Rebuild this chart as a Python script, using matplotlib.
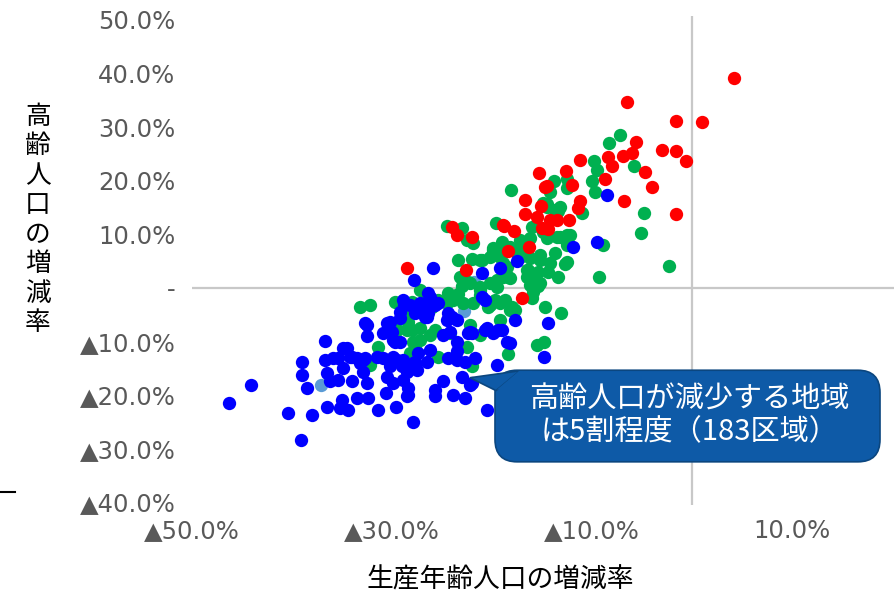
import matplotlib
matplotlib.use("Agg")
import matplotlib.pyplot as plt
from matplotlib.patches import FancyBboxPatch, Polygon
from matplotlib.lines import Line2D

plt.rcParams['font.family'] = ['Noto Sans CJK JP', 'DejaVu Sans']

# ---- data (percent) ----
red_x = [4.2, -6.5, -1.6, 1.0, -5.6, -3.0, -1.6, -0.6, -6.0, -6.9, -8.4, -8.0, -11.2, -4.7, -4.0, -8.7,
         -6.8, -1.6, -15.3, -12.6, -14.5, -12.0, -11.2, -11.4, -16.7, -16.7, -15.1, -15.5, -14.2, -13.5,
         -12.3, -15.0, -14.7, -18.8, -17.8, -24.0, -23.5, -22.0, -18.4, -22.6, -16.3, -28.5, -18.9, -17.0, -14.4]
red_y = [39.2, 34.7, 31.2, 31.0, 27.2, 25.7, 25.6, 23.7, 25.2, 24.6, 24.4, 22.8, 23.9, 21.6, 18.8, 20.3,
         16.2, 13.8, 21.5, 21.8, 19.0, 19.2, 16.2, 14.9, 16.4, 13.8, 15.3, 13.2, 12.7, 12.7,
         12.7, 11.2, 18.8, 11.6, 10.6, 11.4, 9.9, 9.5, 6.9, 3.4, 7.6, 3.7, 11.8, -1.9, 11.0]

green_x = [-7.2, -8.3, -9.8, -9.5, -10.0, -9.7, -5.8, -4.8, -5.1, -13.8, -12.5, -12.5, -14.2, -14.5, -13.4,
           -11.0, -16.0, -12.5, -2.3, -9.3, -8.9, -13.4, -12.7, -13.7, -14.7, -13.1, -15.9, -15.4, -16.0,
           -18.7, -17.7, -14.5, -13.2, -12.2, -17.2, -17.4, -16.2, -15.2, -14.2, -16.4, -15.4, -14.4, -19.2,
           -18.5, -13.2, -14.9, -24.5, -23.0, -22.5, -21.9, -19.6, -23.4, -22.0, -21.2, -19.9, -19.4, -20.2,
           -18.9, -18.2, -18.9, -20.2, -19.5, -21.2, -22.4, -23.0, -23.4, -24.4, -27.2, -26.7, -27.9, -25.4,
           -26.0, -23.9, -22.9, -21.9, -20.4, -19.7, -19.2, -18.2, -17.2, -15.2, -12.5, -15.2, -15.9, -16.5,
           -14.9, -14.5, -13.7, -16.2, -16.9, -19.0, -33.2, -32.2, -29.7, -28.0, -27.9, -28.4, -28.0, -29.5,
           -27.2, -26.2, -31.4, -25.4, -27.7, -28.2, -32.2, -27.2, -27.9, -24.5, -22.2, -21.2, -22.5, -22.0,
           -18.4, -19.2, -28.5, -28.9, -15.5, -14.8, -16.2, -18.0, -20.2, -21.2, -24.2, -25.7, -18.1, -23.2,
           -21.0, -19.9, -18.2, -17.5, -16.5, -22.2, -21.2, -19.5, -18.4, -16.5, -13.5, -12.5]
green_y = [28.5, 27.1, 23.7, 22.0, 20.0, 17.9, 22.8, 14.0, 10.3, 20.0, 20.3, 18.7, 17.9, 15.7, 14.4,
           14.0, 11.4, 9.9, 4.1, 2.1, 8.0, 2.1, 4.5, 6.5, -3.5, -4.7, 1.1, 0.4, -1.9,
           -2.2, -4.1, 9.3, 9.5, 9.9, 9.0, 7.1, 5.6, 5.2, 4.7, 3.4, 3.0, 3.0, 5.8,
           3.9, 15.1, 15.9, 11.6, 11.2, 9.0, 8.4, 12.1, 5.2, 5.4, 5.2, 7.5, 6.7, 5.8,
           4.7, 1.9, 2.1, 0.9, 0.2, 0.2, 1.1, 0.4, -1.1, -0.9, -0.4, -2.2, -3.7, -2.2,
           -3.5, -2.2, -2.8, -2.8, -3.5, -2.2, -2.8, -4.1, 5.8, 6.2, 4.9, 0.9, -0.7, 2.1,
           10.4, 15.1, 14.6, 9.3, 8.0, 8.6, -3.5, -3.2, -2.6, -2.6, -4.5, -6.3, -7.8, -7.8,
           -9.7, -8.8, -11.0, -12.9, -11.0, -12.1, -14.4, -7.5, -10.1, -2.8, -6.9, -8.8, -11.0, -14.7,
           -12.3, -6.0, -7.8, -5.0, -10.6, -10.1, 0.6, -3.5, -3.2, -1.3, -8.4, -7.8, 18.3, 2.1,
           5.2, 7.1, 7.6, 6.5, 7.1, 0.9, -0.4, 1.5, 2.1, 3.4, 9.5, 8.0]

blue_x = [-46.3, -44.1, -40.4, -39.1, -38.0, -39.0, -39.0, -38.5, -36.7, -36.7, -36.5, -36.2, -36.5, -35.9,
          -35.4, -34.5, -34.0, -34.9, -35.4, -34.0, -33.2, -32.9, -32.5, -33.5, -32.4, -35.0, -35.2, -34.4,
          -31.4, -29.6, -27.9, -32.5, -32.5, -30.9, -30.5, -29.9, -29.2, -31.5, -30.9, -30.2, -29.5, -29.0,
          -28.5, -30.5, -29.9, -28.9, -28.4, -28.4, -30.6, -28.9, -29.2, -27.7, -27.9, -27.5, -30.2, -29.2,
          -28.8, -29.7, -27.8, -27.0, -26.2, -25.7, -26.5, -24.5, -24.2, -24.9, -23.5, -22.4, -20.5, -19.4,
          -18.5, -21.7, -19.5, -24.4, -23.5, -26.5, -27.7, -23.0, -24.9, -25.7, -25.7, -23.9, -22.7, -20.5,
          -22.2, -32.7, -33.5, -26.4, -24.0, -23.5, -22.7, -22.2, -17.7, -18.2, -14.4, -14.8, -20.7, -19.9,
          -19.0, -22.0, -25.4, -24.4, -23.5, -25.9, -26.4, -28.2, -25.9, -26.7, -32.7, -30.0, -26.2, -27.4,
          -34.9, -34.2, -32.9, -29.9, -28.9, -17.5, -11.9, -21.0, -19.2, -21.0, -20.7, -27.2, -9.5, -8.5,
          -22.0, -27.7, -28.5]
blue_y = [-21.6, -18.1, -23.3, -28.4, -23.7, -13.8, -16.2, -18.8, -9.9, -13.4, -15.9, -17.5, -22.2, -13.1,
          -13.1, -11.2, -12.9, -14.9, -17.2, -17.5, -14.0, -15.7, -17.7, -20.5, -20.5, -20.9, -22.4, -22.8,
          -22.9, -22.2, -25.0, -6.9, -9.1, -8.4, -6.5, -9.7, -10.1, -12.9, -13.1, -14.7, -13.4, -14.7,
          -15.7, -16.6, -17.7, -17.2, -18.8, -20.0, -19.6, -2.2, -4.5, -4.7, -14.0, -15.3, -6.3, -5.6,
          -3.2, -10.1, 1.5, -3.5, -1.7, -3.2, -5.4, -6.0, -8.2, -8.8, -10.1, -8.4, -7.5, -7.8,
          -10.1, -13.1, -14.4, -13.1, -13.4, -13.8, -13.8, -16.6, -17.5, -19.0, -20.3, -20.0, -20.5, -22.8,
          -18.1, -13.1, -13.1, -4.7, -5.4, -11.9, -13.8, -8.2, -6.0, -10.3, -6.5, -12.9, -7.8, -8.4,
          -7.8, -8.4, -2.8, -4.7, -6.0, 3.7, -0.9, -3.2, -3.2, -5.4, -6.5, -8.2, -11.6, -12.1,
          -11.2, -12.9, -13.4, -12.9, -13.4, 5.0, 7.6, 2.8, 3.7, -1.7, -2.2, -2.8, 8.6, 17.4,
          -17.7, -14.4, -20.3]

lblue_x = [-37.1, -22.8, -29.4, -21.8]
lblue_y = [-18.1, -4.3, -6.3, 1.1]

y_ticks = [-40, -30, -20, -10, 0, 10, 20, 30, 40, 50]
y_labels = ['▲40.0%', '▲30.0%', '▲20.0%', '▲10.0%', '-', '10.0%', '20.0%', '30.0%', '40.0%', '50.0%']
x_ticks = [-50, -30, -10, 10]
x_labels = ['▲50.0%', '▲30.0%', '▲10.0%', '10.0%']

W, H = 895, 593
fig = plt.figure(figsize=(W / 100, H / 100), dpi=100)
x0, x1 = -50.0, 20.3
y0, y1 = -40.6, 50.8
px_l, px_r = 192, 895
py_t, py_b = 15.7, 505.2
ax = fig.add_axes([px_l / W, (H - py_b) / H, (px_r - px_l) / W, (py_b - py_t) / H])
ax.set_xlim(x0, x1)
ax.set_ylim(y0, y1)
for s in ax.spines.values():
    s.set_visible(False)

grey = '#c8c8c8'
ax.axhline(0, color=grey, lw=1.6, zorder=1)
ax.axvline(0, color=grey, lw=1.6, zorder=1)

ms = 92
ax.scatter(lblue_x, lblue_y, s=ms, color='#5b9bd5', lw=0, zorder=2)
ax.scatter(green_x, green_y, s=ms, color='#00b050', lw=0, zorder=3)
ax.scatter(red_x, red_y, s=ms, color='#ff0000', lw=0, zorder=4)
ax.scatter(blue_x, blue_y, s=ms, color='#0000ff', lw=0, zorder=5)

tick_col = '#595959'
ax.set_yticks(y_ticks)
ax.set_yticklabels(y_labels)
ax.set_xticks(x_ticks)
ax.set_xticklabels(x_labels)
ax.tick_params(axis='both', length=0, labelsize=17.5, labelcolor=tick_col)
ax.tick_params(axis='y', pad=12)
ax.tick_params(axis='x', pad=10)
for lab in ax.get_xticklabels() + ax.get_yticklabels():
    lab.set_fontfamily(['DejaVu Sans'])

# axis titles
fig.text(38 / W, 1 - 220 / H, '\n'.join('高齢人口の増減率'), ha='center', va='center',
         fontsize=18.5, linespacing=1.17, color='black')
fig.text(500 / W, 1 - 580 / H, '生産年齢人口の増減率', ha='center', va='center',
         fontsize=19.3, color='black')

# callout
box_col = '#0e5aa7'
bx0, bx1 = -19.7, 18.8
by0, by1 = -32.5, -15.4
box = FancyBboxPatch((bx0, by0), bx1 - bx0, by1 - by0,
                     boxstyle='round,pad=0,rounding_size=2.2',
                     mutation_aspect=1.9, fc=box_col, ec='#0b467f', lw=1.2, zorder=6)
ax.add_patch(box)
tail = Polygon([(-22.2, -16.8), (-19.6, -19.2), (-17.2, -15.5)], closed=True,
               fc=box_col, ec='#0b467f', lw=1.2, zorder=6)
ax.add_patch(tail)
tail_cover = Polygon([(-19.5, -19.0), (-17.3, -15.55), (-16.0, -15.55), (-16.0, -19.0)], closed=True,
                     fc=box_col, ec='none', zorder=7)
ax.add_patch(tail_cover)
ax.text((bx0 + bx1) / 2 + 0.2, (by0 + by1) / 2, '高齢人口が減少する地域\nは5割程度（183区域）',
        ha='center', va='center', color='white', fontsize=21, linespacing=1.08, zorder=8)

fig.add_artist(Line2D([0 / W, 15 / W], [1 - 492 / H, 1 - 492 / H], color='black', lw=1.5))

fig.savefig('out.png', dpi=100)
